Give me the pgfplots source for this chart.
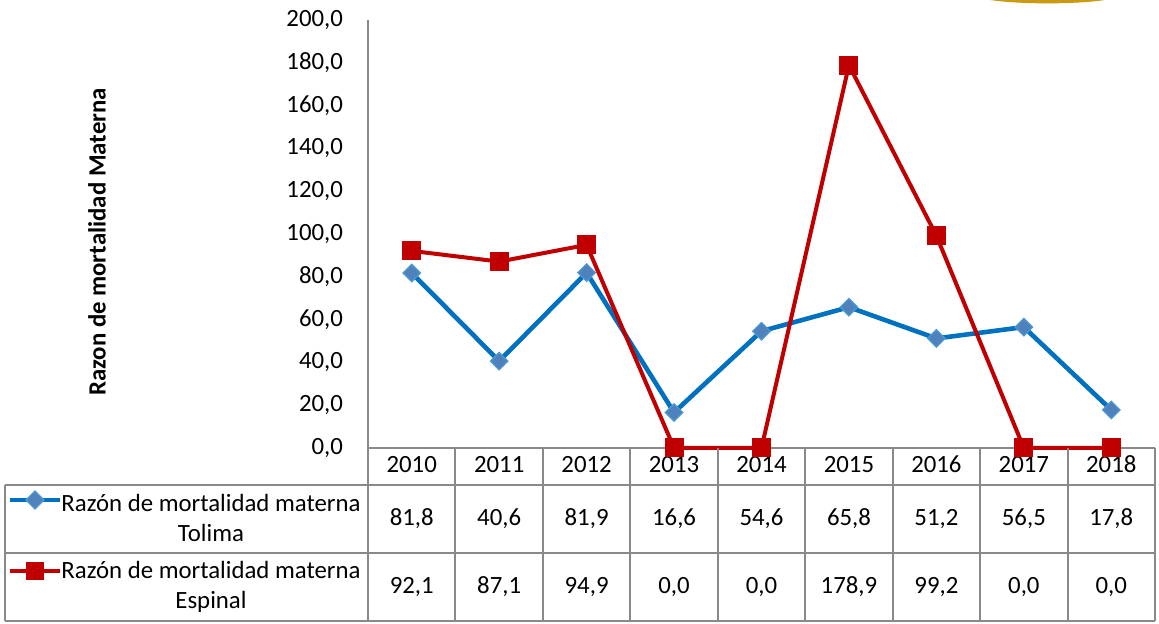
\documentclass[border=0pt]{standalone}
\usepackage{pgfplots}
\pgfplotsset{compat=1.18}
\usepackage{fontspec}
\setmainfont{Carlito}
\definecolor{tolima}{HTML}{0070C0}
\definecolor{tolimafill}{HTML}{4F81BD}
\definecolor{espinal}{HTML}{C00000}
\definecolor{gridgray}{HTML}{898989}
\definecolor{gold}{HTML}{C99A12}
\newcommand{\cf}{\fontsize{12.4}{15}\selectfont}

\begin{document}
\begin{tikzpicture}
\useasboundingbox (0,0) rectangle (579.5pt,312pt);
\begin{axis}[at={(184pt,88pt)}, anchor=south west, scale only axis,
  width=393.5pt, height=214pt,
  xmin=-0.5, xmax=8.5, ymin=0, ymax=200,
  xtick={0,...,8}, xticklabels={2010,2011,2012,2013,2014,2015,2016,2017,2018},
  ytick={0,20,...,200},
  axis x line=bottom, axis y line=left,
  axis line style={draw=gridgray, line width=1pt, -},
  major tick length=0, clip=false,
  tick label style={font=\cf},
  xticklabel style={anchor=center, text height=0.65em, text depth=0pt, yshift=-9pt},
  yticklabel style={xshift=-9pt, /pgf/number format/.cd, fixed, fixed zerofill,
    precision=1, use comma, assume math mode=true}]
\addplot[tolima, line width=2.3pt, mark=square*,
  mark options={rotate=45, fill=tolimafill, draw=tolima!70!white, line width=0.6pt}, mark size=3.1pt]
  coordinates {(0,81.8) (1,40.6) (2,81.9) (3,16.6) (4,54.6) (5,65.8) (6,51.2) (7,56.5) (8,17.8)};
\addplot[espinal, line width=2pt, mark=square*,
  mark options={fill=espinal, line width=0.5pt}, mark size=4.5pt]
  coordinates {(0,92.1) (1,87.1) (2,94.9) (3,0) (4,0) (5,178.9) (6,99.2) (7,0) (8,0)};
\end{axis}
\begin{scope}[x=0.5pt, y=-0.5pt, shift={(0,312pt)}]
  % gold shape at top edge
  \fill[gold] (990,0) .. controls (1020,4.5) and (1075,4.5) .. (1105,0) -- cycle;
  % table grid
  \draw[gridgray, line width=1pt] (368,448) -- (368,621);
  \draw[gridgray, line width=1pt] (1155,448) -- (1155,621);
  \draw[gridgray, line width=1pt] (5,485) -- (5,621);
  \foreach \k in {1,...,8} {
    \draw[gridgray, line width=1pt] ({368+87.444*\k},448) -- ({368+87.444*\k},621);
  }
  \foreach \yy in {485,553,621} {
    \draw[gridgray, line width=1pt] (5,\yy) -- (1155,\yy);
  }
  % values
  \foreach \v [count=\i from 0] in {{81,8},{40,6},{81,9},{16,6},{54,6},{65,8},{51,2},{56,5},{17,8}} {
    \node[font=\cf] at ({368+87.444*(\i+0.5)},519) {\v};
  }
  \foreach \v [count=\i from 0] in {{92,1},{87,1},{94,9},{0,0},{0,0},{178,9},{99,2},{0,0},{0,0}} {
    \node[font=\cf] at ({368+87.444*(\i+0.5)},587) {\v};
  }
  % legend keys
  \draw[tolima, line width=2.3pt] (10,500) -- (60,500);
  \fill[tolimafill, draw=tolima!70!white, line width=0.6pt] (35,491) -- (44,500) -- (35,509) -- (26,500) -- cycle;
  \node[font=\cf, align=center] at (211,518) {Razón de mortalidad materna\\Tolima};
  \draw[espinal, line width=2pt] (10,571) -- (60,571);
  \fill[espinal] (26,562) rectangle (44,580);
  \node[font=\cf, align=center] at (211,587) {Razón de mortalidad materna\\Espinal};
  % y label
  \node[font=\cf\bfseries, rotate=90] at (97,242) {Razon de mortalidad Materna};
\end{scope}
\end{tikzpicture}
\end{document}
